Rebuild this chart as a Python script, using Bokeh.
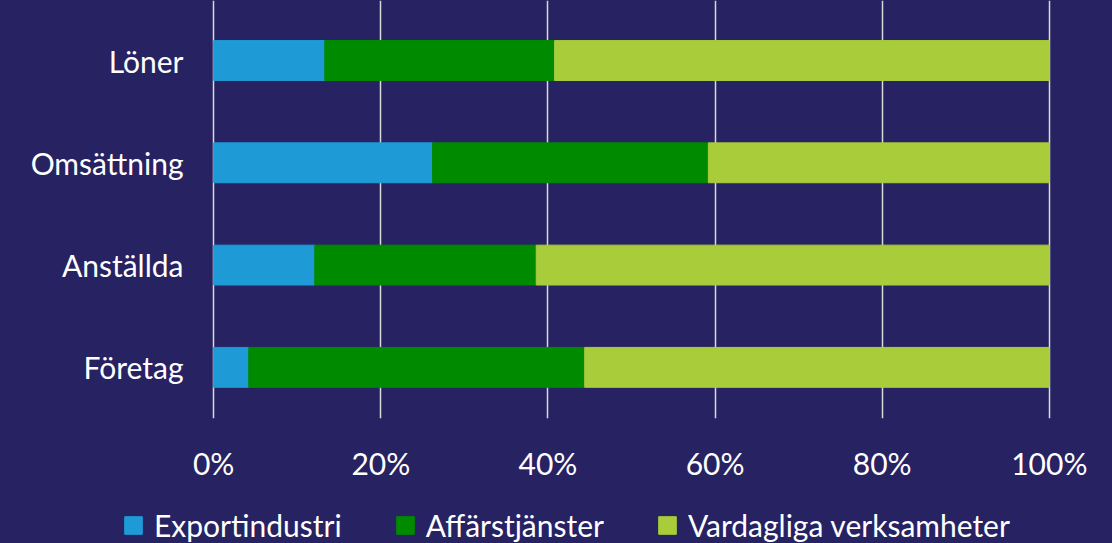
from bokeh.plotting import figure
from bokeh.layouts import column
from bokeh.models import Range1d, FixedTicker, PrintfTickFormatter, Legend, LegendItem
from bokeh.embed import file_html
from bokeh.resources import INLINE

categories = ["Företag", "Anställda", "Omsättning", "Löner"]  # bottom to top
export = [4.2, 12.1, 26.2, 13.3]
affar = [40.2, 26.5, 33.0, 27.5]
vardag = [55.6, 61.4, 40.8, 59.2]
series = ["Exportindustri", "Affärstjänster", "Vardagliga verksamheter"]
x_ticks = [0, 20, 40, 60, 80, 100]

BG = "#272262"
COLORS = ["#1e9bd7", "#008a00", "#a9cd3a"]
FONT = "Lato"

ypos = list(range(len(categories)))
data = dict(y=ypos, Exportindustri=export, Affärstjänster=affar)
data["Vardagliga verksamheter"] = vardag

p = figure(width=1112, height=483, output_backend="svg", toolbar_location=None,
           x_range=Range1d(-0.5, 100.5), y_range=Range1d(-0.5, 3.587),
           min_border_left=209, min_border_right=59, min_border_top=0,
           min_border_bottom=65)
p.frame_align = False
p.background_fill_color = None
p.border_fill_color = BG
p.outline_line_color = None

rs = p.hbar_stack(series, y="y", height=0.39, color=COLORS, source=data)

p.xgrid.ticker = FixedTicker(ticks=x_ticks)
p.xgrid.grid_line_color = "#d9d9d9"
p.xgrid.grid_line_width = 1.5
p.ygrid.grid_line_color = None

p.xaxis.ticker = FixedTicker(ticks=x_ticks)
p.xaxis.formatter = PrintfTickFormatter(format="%d%%")
p.yaxis.ticker = FixedTicker(ticks=ypos)
p.yaxis.major_label_overrides = {i: c for i, c in zip(ypos, categories)}
for ax in (p.xaxis, p.yaxis):
    ax.axis_line_color = None
    ax.major_tick_line_color = None
    ax.minor_tick_line_color = None
    ax.major_label_text_color = "#ffffff"
    ax.major_label_text_font = FONT
    ax.major_label_text_font_size = "30px"
p.xaxis.major_label_standoff = 20
p.yaxis.major_label_standoff = 20

# legend strip
p2 = figure(width=1112, height=60, output_backend="svg", toolbar_location=None,
            x_range=Range1d(0, 100), y_range=Range1d(0, 1), min_border=0)
p2.frame_align = False
p2.background_fill_color = None
p2.border_fill_color = BG
p2.outline_line_color = None
p2.axis.visible = False
p2.grid.visible = False
rs2 = p2.hbar_stack(series, y="y", height=0.39, color=COLORS, source=data, visible=False)

legend = Legend(items=[LegendItem(label=s, renderers=[r]) for s, r in zip(series, rs2)],
                orientation="horizontal", location=(122, 0),
                glyph_width=22, glyph_height=22, label_standoff=10, spacing=52,
                padding=0, margin=0, border_line_color=None,
                background_fill_alpha=0, label_text_color="#ffffff",
                label_text_font=FONT, label_text_font_size="30px")
p2.add_layout(legend, "center")

layout = column(p, p2, spacing=0)
html = file_html(layout, INLINE)
style = "<style>html,body{margin:0;padding:0;background:%s;overflow:hidden;}</style>" % BG
html = html.replace("</head>", style + "</head>", 1)
open("out.html", "w").write(html)
